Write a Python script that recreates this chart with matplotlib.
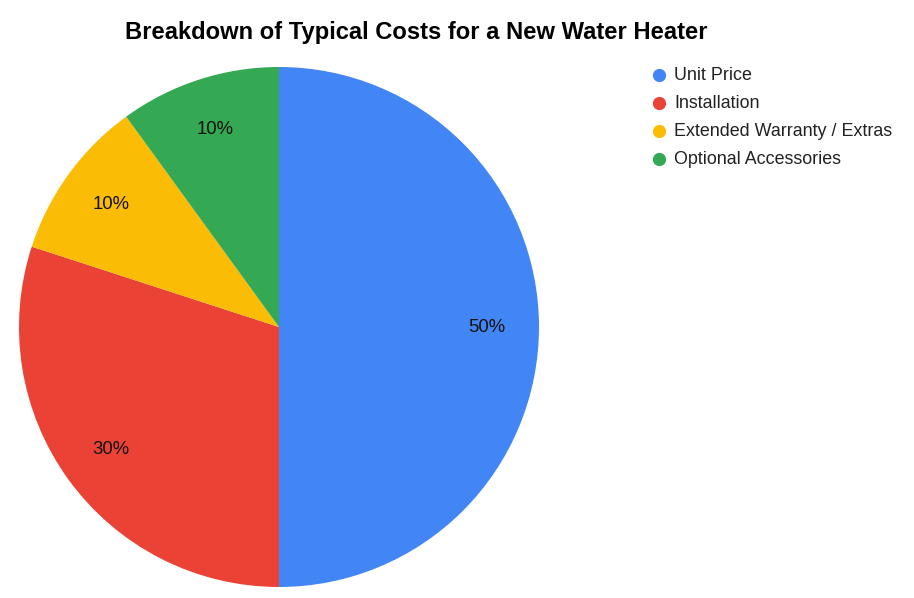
import matplotlib.pyplot as plt

plt.rcParams['font.family'] = ['Liberation Sans', 'DejaVu Sans']

# data
categories = ['Unit Price', 'Installation', 'Extended Warranty / Extras', 'Optional Accessories']
shares = [50, 30, 10, 10]
colors = ['#4285F4', '#EA4335', '#FBBC05', '#34A853']
title = 'Breakdown of Typical Costs for a New Water Heater'

W, H = 914, 598
fig = plt.figure(figsize=(W / 100, H / 100), dpi=100, facecolor='white')

# pie area in pixels: center (279, 327), radius 260
cx, cy, r = 279, 327, 260
ax = fig.add_axes([(cx - r) / W, (H - cy - r) / H, 2 * r / W, 2 * r / H])
wedges, texts, autotexts = ax.pie(
    shares, colors=colors, startangle=90, counterclock=False, radius=1,
    autopct='%1.0f%%', pctdistance=0.8,
    wedgeprops=dict(linewidth=0),
    textprops=dict(fontsize=13.3, color='#111111'))
ax.set_xlim(-1, 1)
ax.set_ylim(-1, 1)
ax.set_aspect('equal')
ax.axis('off')

fig.text(416 / W, 1 - 33 / H, title, ha='center', va='center',
         fontsize=17.1, fontweight='bold', color='#000000')

# legend
lax = fig.add_axes([0, 0, 1, 1])
lax.set_xlim(0, W)
lax.set_ylim(H, 0)
lax.axis('off')
for i, (name, col) in enumerate(zip(categories, colors)):
    y = 75 + 28 * i
    lax.plot(659, y, 'o', color=col, markersize=8.5)
    lax.text(674, y + 0.5, name, ha='left', va='center', fontsize=12.9, color='#222222')

fig.savefig('out.png', dpi=100, facecolor='white')
